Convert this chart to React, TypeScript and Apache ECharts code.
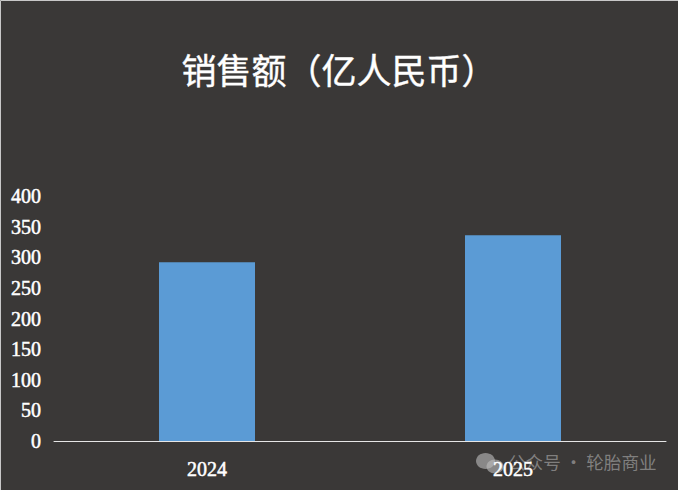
import React, { useEffect, useRef } from "react";
import * as echarts from "echarts";

const categories = ["2024", "2025"];
const salesValues = [292, 336];
const chartTitle = "销售额（亿人民币）";
const watermarkText = "公众号 · 轮胎商业";

export default function App() {
  const ref = useRef<HTMLDivElement>(null);
  useEffect(() => {
    document.body.style.margin = "0";
    document.body.style.background = "#fff";
    const chart = echarts.init(ref.current!, null, { renderer: "svg" });
    const mark = "rgba(190,190,190,0.6)";
    const bg = "#3a3837";
    chart.setOption({
      animation: false,
      backgroundColor: bg,
      title: {
        text: chartTitle,
        left: 334,
        textAlign: "center",
        top: 46,
        textStyle: {
          color: "#ffffff",
          fontSize: 35,
          fontWeight: "normal",
          fontFamily: "Noto Sans CJK SC",
          textBorderColor: "#ffffff",
          textBorderWidth: 0.4,
        },
      },
      grid: { left: 54, right: 12, top: 196, bottom: 49 },
      xAxis: {
        type: "category",
        data: categories,
        axisLine: { lineStyle: { color: "#e6e6e6", width: 1 } },
        axisTick: { show: false },
        axisLabel: {
          color: "#fff",
          fontSize: 20,
          fontFamily: "Liberation Serif",
          margin: 18,
          textBorderColor: "#fff",
          textBorderWidth: 0.5,
        },
      },
      yAxis: {
        type: "value",
        min: 0,
        max: 400,
        interval: 50,
        axisLine: { show: false },
        axisTick: { show: false },
        splitLine: { show: false },
        axisLabel: {
          color: "#fff",
          fontSize: 20,
          fontFamily: "Liberation Serif",
          margin: 13,
          textBorderColor: "#fff",
          textBorderWidth: 0.5,
        },
      },
      series: [
        {
          type: "bar",
          data: salesValues,
          barWidth: 96,
          itemStyle: { color: "#5b9bd5" },
        },
      ],
      graphic: [
        { type: "ellipse", z: -1, silent: true, shape: { cx: 485.5, cy: 461, rx: 9.5, ry: 8 }, style: { fill: mark } },
        { type: "ellipse", z: -1, silent: true, shape: { cx: 495, cy: 466.5, rx: 8.5, ry: 7 }, style: { fill: mark } },
        {
          type: "text",
          z: -1,
          silent: true,
          x: 508,
          y: 453,
          style: {
            text: watermarkText,
            fill: "rgba(190,190,190,0.55)",
            fontSize: 17.6,
            fontFamily: "Noto Sans CJK SC",
          },
        },
        {
          type: "polyline",
          silent: true,
          shape: { points: [[0.5, 490], [0.5, 0.5], [678, 0.5]] },
          style: { stroke: "#c8c8c8", fill: "none", lineWidth: 1 },
        },
      ],
    });
    return () => chart.dispose();
  }, []);
  return <div ref={ref} style={{ width: 678, height: 490 }} />;
}
